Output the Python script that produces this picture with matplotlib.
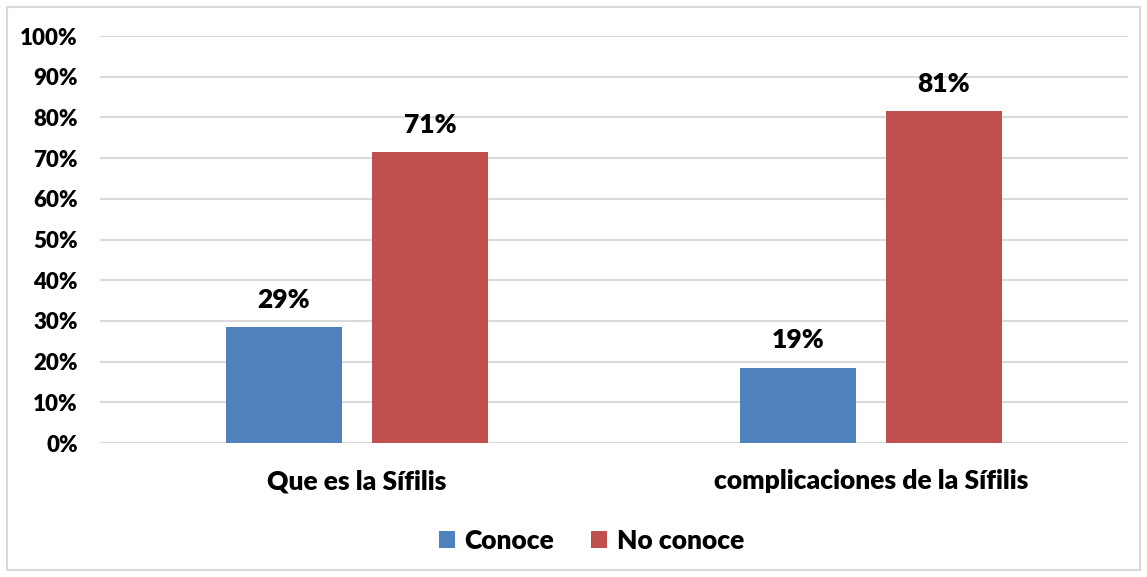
import matplotlib.pyplot as plt
import numpy as np
from matplotlib.patches import Rectangle

plt.rcParams['font.family'] = ['Lato', 'DejaVu Sans']
plt.rcParams['font.weight'] = 'heavy'

categories = ['Que es la Sífilis', 'complicaciones de la Sífilis']
conoce = [28.5, 18.5]
no_conoce = [71.5, 81.5]
conoce_labels = ['29%', '19%']
no_conoce_labels = ['71%', '81%']
yticks = list(range(0, 101, 10))

blue = '#4F81BD'
red = '#C0504D'
wt = 'heavy'

fig = plt.figure(figsize=(11.47, 5.77), dpi=100)
ax = fig.add_axes([0.0872, 0.2322, 0.8962, 0.7054])

x = np.arange(len(categories))
w = 0.224
off = 0.142
b1 = ax.bar(x - off, conoce, w, color=blue, label='Conoce', zorder=3)
b2 = ax.bar(x + off, no_conoce, w, color=red, label='No conoce', zorder=3)

for bars, labels in ((b1, conoce_labels), (b2, no_conoce_labels)):
    for bar, lab in zip(bars, labels):
        ax.annotate(lab, (bar.get_x() + bar.get_width() / 2, bar.get_height()),
                    xytext=(0, 11), textcoords='offset points',
                    ha='center', va='bottom', fontsize=19, fontweight=wt)

ax.set_xlim(-0.5, 1.5)
ax.set_ylim(0, 100)
ax.set_yticks(yticks)
ax.set_yticklabels([f'{t}%' for t in yticks], fontsize=16, fontweight=wt)
ax.set_xticks(x)
ax.set_xticklabels(categories, fontsize=19, fontweight=wt)
ax.tick_params(axis='both', length=0)
ax.tick_params(axis='y', pad=16)
ax.tick_params(axis='x', pad=19)
ax.grid(axis='y', color='#D9D9D9', linewidth=1.5, zorder=0)
for s in ax.spines.values():
    s.set_visible(False)

leg = fig.legend(loc='center', bbox_to_anchor=(0.5155, 0.062), ncol=2, frameon=False,
                 prop={'size': 19, 'weight': wt}, handlelength=0.62,
                 handleheight=0.62, handletextpad=0.35, columnspacing=1.4)

fig.patches.append(Rectangle((7 / 1147, 7 / 577), 1 - 14 / 1147, 1 - 14 / 577,
                             transform=fig.transFigure, fill=False,
                             edgecolor='#D9D9D9', linewidth=1.5))

fig.savefig('out.png', dpi=100)
